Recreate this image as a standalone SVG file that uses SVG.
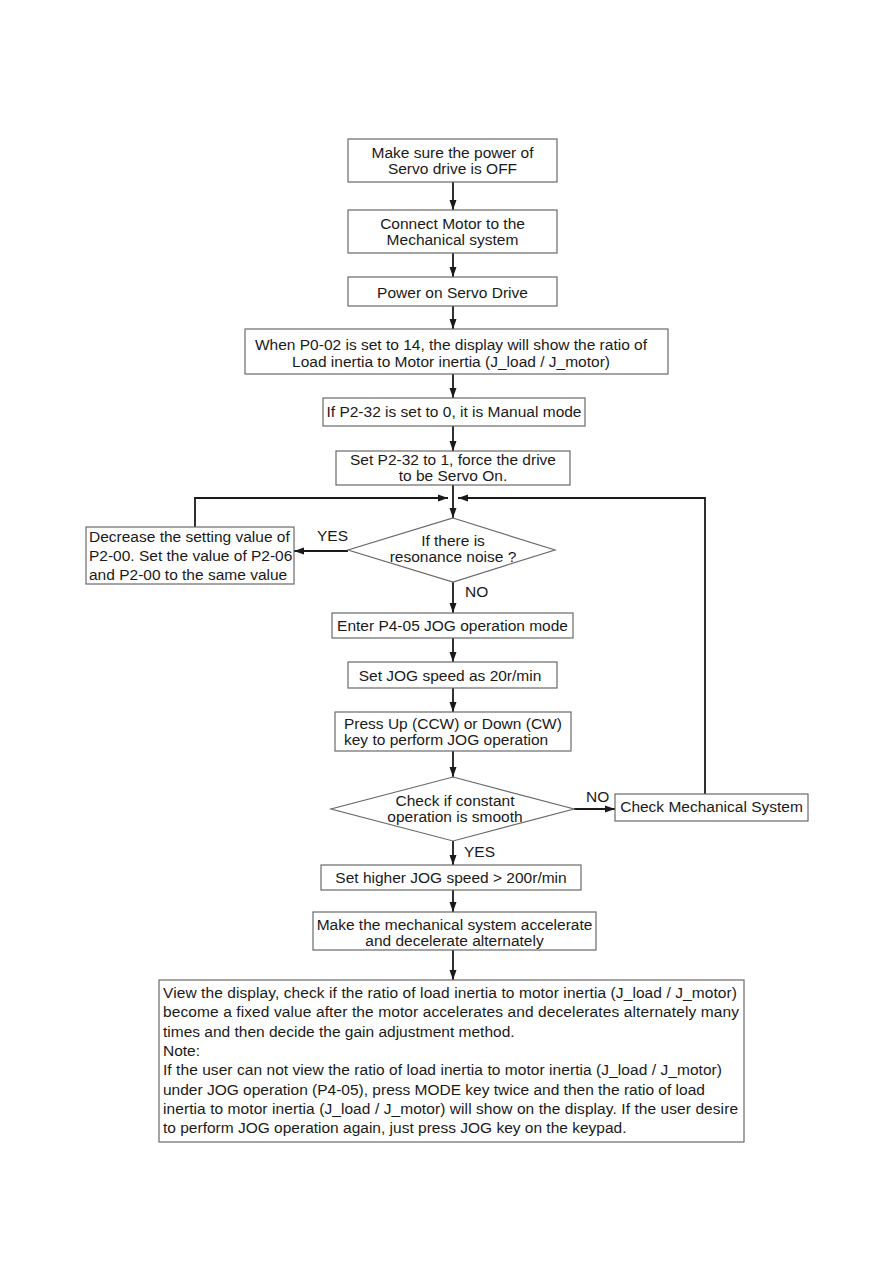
<svg xmlns="http://www.w3.org/2000/svg" width="893" height="1263" viewBox="0 0 893 1263">
<defs>
<marker id="ah" markerUnits="userSpaceOnUse" markerWidth="10" markerHeight="10" viewBox="0 0 10 10" refX="10" refY="5" orient="auto">
<path d="M0,1.5 L10,5 L0,8.5 Z" fill="#1a1a1a"/>
</marker>
<style>
.box{fill:#fff;stroke:#6a6a6a;stroke-width:1.2}
.t{font-family:"Liberation Sans",Arial,sans-serif;font-size:15.5px;fill:#1a1a1a}
.c{text-anchor:middle}
.conn path{fill:none;stroke:#1a1a1a;stroke-width:1.8;marker-end:url(#ah)}
</style>
</defs>
<rect width="893" height="1263" fill="#fff"/>
<g id="connectors" class="conn">
<path d="M453,182 V210"/>
<path d="M453,253 V277"/>
<path d="M453,306 V329"/>
<path d="M453,374 V398"/>
<path d="M453,426 V451"/>
<path d="M453,485 V518"/>
<path d="M195,527 V498 H448"/>
<path d="M705,794 V498 H458"/>
<path d="M348,551 H294"/>
<path d="M453,582 V613"/>
<path d="M453,638 V662"/>
<path d="M453,688 V712"/>
<path d="M453,751 V777"/>
<path d="M574,809 H615"/>
<path d="M453,841 V865"/>
<path d="M453,890 V912"/>
<path d="M453,950 V980"/>
</g>
<g id="n1"><rect class="box" x="348" y="139" width="209" height="43"/>
<text class="t c" x="452.5" y="158">Make sure the power of</text>
<text class="t c" x="452.5" y="174">Servo drive is OFF</text></g>
<g id="n2"><rect class="box" x="348" y="210" width="209" height="43"/>
<text class="t c" x="452.5" y="229">Connect Motor to the</text>
<text class="t c" x="452.5" y="245">Mechanical system</text></g>
<g id="n3"><rect class="box" x="348" y="277" width="209" height="29"/>
<text class="t c" x="452.5" y="298">Power on Servo Drive</text></g>
<g id="n4"><rect class="box" x="245" y="329" width="423" height="45"/>
<text class="t c" x="451" y="350">When P0-02 is set to 14, the display will show the ratio of</text>
<text class="t c" x="451" y="367">Load inertia to Motor inertia (J_load / J_motor)</text></g>
<g id="n5"><rect class="box" x="323" y="398" width="262" height="28"/>
<text class="t c" x="454" y="417">If P2-32 is set to 0, it is Manual mode</text></g>
<g id="n6"><rect class="box" x="336" y="451" width="234" height="34"/>
<text class="t c" x="453" y="465">Set P2-32 to 1, force the drive</text>
<text class="t c" x="453" y="481">to be Servo On.</text></g>
<g id="d1"><polygon class="box" points="453,518 555,550 453,582 348,550"/>
<text class="t c" x="453" y="546">If there is</text>
<text class="t c" x="453" y="562">resonance noise ?</text></g>
<g id="n7"><rect class="box" x="86" y="527" width="208" height="57"/>
<text class="t" x="89" y="542">Decrease the setting value of</text>
<text class="t" x="89" y="561">P2-00. Set the value of P2-06</text>
<text class="t" x="89" y="580">and P2-00 to the same value</text></g>
<g id="n8"><rect class="box" x="332" y="613" width="241" height="25"/>
<text class="t c" x="452.5" y="631">Enter P4-05 JOG operation mode</text></g>
<g id="n9"><rect class="box" x="348" y="662" width="209" height="26"/>
<text class="t c" x="450" y="681">Set JOG speed as 20r/min</text></g>
<g id="n10"><rect class="box" x="335" y="712" width="236" height="39"/>
<text class="t" x="344" y="729">Press Up (CCW) or Down (CW)</text>
<text class="t" x="344" y="745">key to perform JOG operation</text></g>
<g id="d2"><polygon class="box" points="453,777 574,809 453,841 331,809"/>
<text class="t c" x="455" y="806">Check if constant</text>
<text class="t c" x="455" y="822">operation is smooth</text></g>
<g id="n11"><rect class="box" x="615" y="794" width="193" height="27"/>
<text class="t c" x="711.5" y="812">Check Mechanical System</text></g>
<g id="n12"><rect class="box" x="321" y="865" width="260" height="25"/>
<text class="t c" x="451" y="883">Set higher JOG speed &gt; 200r/min</text></g>
<g id="n13"><rect class="box" x="313" y="912" width="283" height="38"/>
<text class="t c" x="454.5" y="930">Make the mechanical system accelerate</text>
<text class="t c" x="454.5" y="946">and decelerate alternately</text></g>
<g id="n14"><rect class="box" x="159" y="980" width="585" height="162"/>
<text class="t" x="163" y="998" textLength="574" lengthAdjust="spacing">View the display, check if the ratio of load inertia to motor inertia (J_load / J_motor)</text>
<text class="t" x="163" y="1017.3" textLength="576" lengthAdjust="spacing">become a fixed value after the motor accelerates and decelerates alternately many</text>
<text class="t" x="163" y="1036.6">times and then decide the gain adjustment method.</text>
<text class="t" x="163" y="1055.9">Note:</text>
<text class="t" x="163" y="1075.2" textLength="559" lengthAdjust="spacing">If the user can not view the ratio of load inertia to motor inertia (J_load / J_motor)</text>
<text class="t" x="163" y="1094.5">under JOG operation (P4-05), press MODE key twice and then the ratio of load</text>
<text class="t" x="163" y="1113.8" textLength="575" lengthAdjust="spacing">inertia to motor inertia (J_load / J_motor) will show on the display. If the user desire</text>
<text class="t" x="163" y="1133.1">to perform JOG operation again, just press JOG key on the keypad.</text></g>
<g id="labels">
<text class="t" x="317" y="541">YES</text>
<text class="t" x="465" y="597">NO</text>
<text class="t" x="586" y="802">NO</text>
<text class="t" x="464" y="857">YES</text>
</g>
</svg>
